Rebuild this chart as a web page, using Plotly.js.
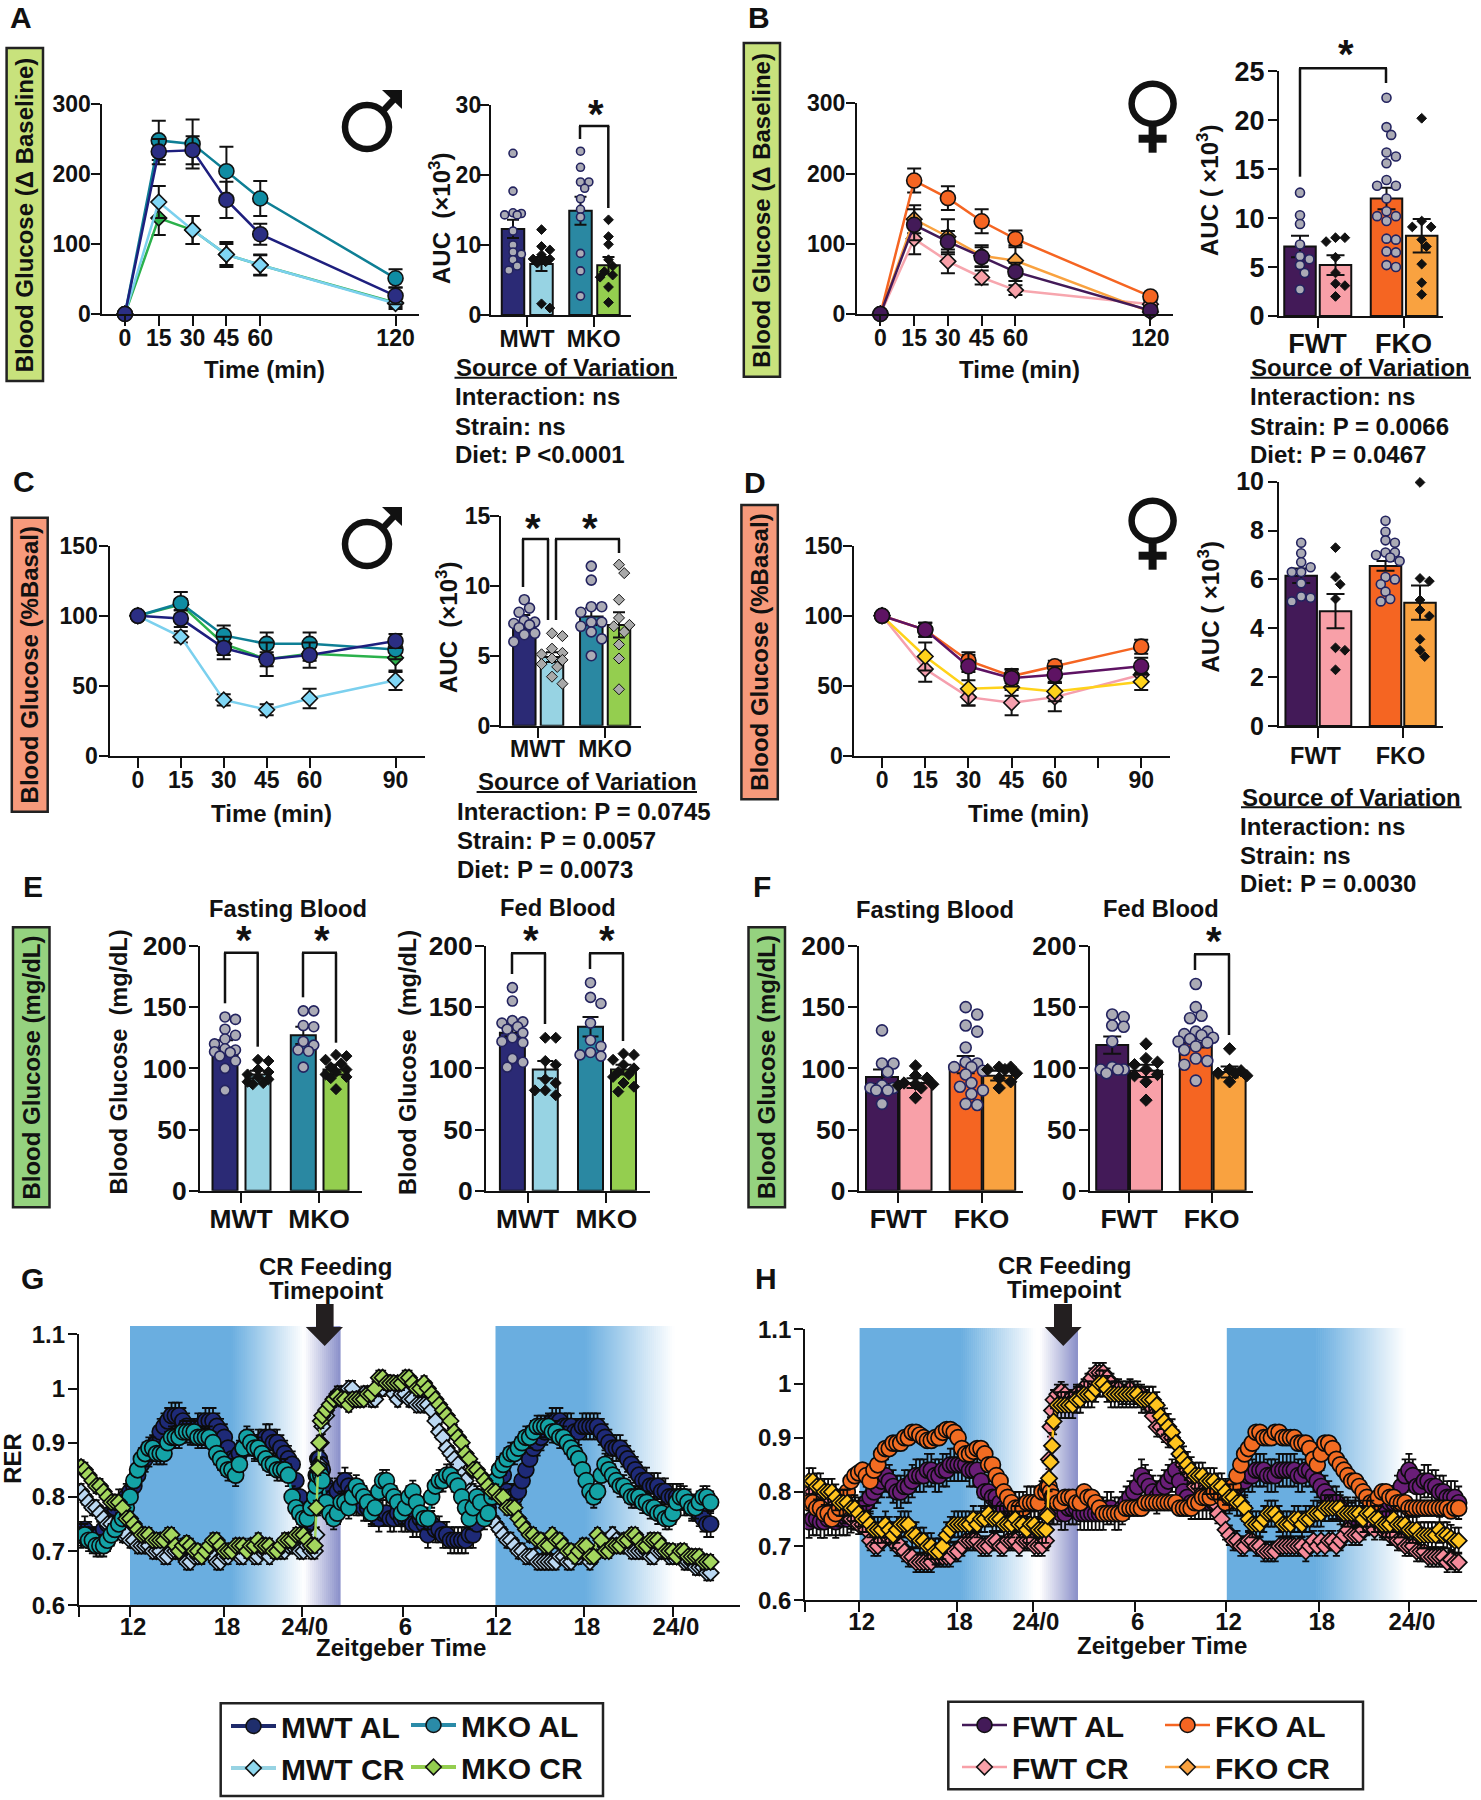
<!DOCTYPE html>
<html><head><meta charset="utf-8">
<script src="https://cdn.plot.ly/plotly-3.0.1.min.js"></script>
<style>html,body{margin:0;padding:0;background:#fff}</style></head>
<body><div id="chart" style="width:1481px;height:1800px"></div>
<script>
// ---------- DATA ----------
const minutesGTT = [0,15,30,45,60,120];
const minutesITT = [0,15,30,45,60,90];

const gttMwtAl = [0,232,234,163,114,26], gttMwtAlErr = [0,18,20,26,15,12];
const gttMkoAl = [0,248,243,204,165,51], gttMkoAlErr = [0,28,35,35,25,13];
const gttMwtCr = [0,160,120,85,70,15],   gttMwtCrErr = [0,23,20,18,15,8];
const gttMkoCr = [0,137,120,85,70,16],   gttMkoCrErr = [0,24,20,15,14,6];

const gttFwtAl = [0,127,103,81,60,5],    gttFwtAlErr = [0,22,15,14,13,5];
const gttFkoAl = [0,190,165,132,107,25], gttFkoAlErr = [0,17,17,17,12,4];
const gttFwtCr = [0,107,75,52,34,14],    gttFwtCrErr = [0,22,17,10,7,4];
const gttFkoCr = [0,135,110,83,76,3],    gttFkoCrErr = [0,20,25,15,22,4];

const ittMwtAl = [100,98,77,69,72,82],   ittMwtAlErr = [0,6,8,12,9,5];
const ittMkoAl = [100,109,86,80,80,76],  ittMkoAlErr = [0,8,7,8,8,7];
const ittMwtCr = [100,85,40,33,41,54],   ittMwtCrErr = [0,4,4,4,7,7];
const ittMkoCr = [100,108,80,69,73,70],  ittMkoCrErr = [0,4,8,5,5,10];

const ittFwtAl = [100,90,64,55.5,58,64], ittFwtAlErr = [0,5,10,6,6,6];
const ittFkoAl = [100,90,68,57,64,78],   ittFkoAlErr = [0,5,4,5,4,5];
const ittFwtCr = [100,62,42,38,42,58],   ittFwtCrErr = [0,9,6,9,10,5];
const ittFkoCr = [100,71,48,49,46,53],   ittFkoCrErr = [0,10,12,6,7,6];

const aucAMeans=[12.3,7.3,14.9,7.1], aucASem=[1.3,1.0,2.0,1.2];
const aucADots1=[23.1,17.7,14.6,14.5,14.3,14.3,12.0,10,9,8.7,7.9,7,6.4];
const aucADots2=[12.2,9.8,9.3,8.6,8,8,7.9,7.6,7.4,1.6,1];
const aucADots3=[23.4,21.1,19,19,18.1,16.6,15.1,14,8.8,6.3,2.7];
const aucADots4=[13.6,11.2,10.1,7.9,7,6.2,5.7,5.4,4,1.8];

const aucBMeans=[7.1,5.2,12,8.2], aucBSem=[1.1,1.0,1.1,1.7];
const aucBDots1=[12.6,10.3,9.4,7.3,6.1,5.8,5.2,4.4,2.7];
const aucBDots2=[8,7.6,8,6,4.4,3.3,3.1,2];
const aucBDots3=[22.3,19.3,18.5,16.7,16.3,15.6,13.9,13.3,13.3,12,10.7,10.2,10.2,9.7,7.9,7.8,6.6,6.5,5.2,5];
const aucBDots4=[20.2,9.7,9.1,9.1,7.8,7.1,5.3,3.4,2.2];

const aucCMeans=[7.4,4.9,7.8,7.2], aucCSem=[0.5,0.35,0.6,0.9];
const aucCDots1=[9,8.4,8.1,7.5,7.4,7.3,7.2,7,6.6,6.5,6];
const aucCDots2=[6.6,6.4,5.5,5.2,5.1,4.8,4.7,4.4,4.2,3.5,3];
const aucCDots3=[11.4,10.4,8.5,8.5,8.1,7.4,7.4,7.1,6.7,6.2,5];
const aucCDots4=[11.5,10.9,9,7.7,7.2,7.1,6.7,5.8,4.8,2.6];

const aucDMeans=[6.15,4.7,6.55,5.05], aucDSem=[0.3,0.7,0.2,0.7];
const aucDDots1=[7.5,7.07,6.7,6.5,6.3,6.3,5.84,5.3,5.25,5.1];
const aucDDots2=[7.3,6.1,5.8,5.2,3.2,3.1,2.3];
const aucDDots3=[8.4,7.95,7.6,7.5,7.1,7.1,7,6.9,6.75,6.1,6,5.8,5.5,5.2,5.1];
const aucDDots4=[9.97,6.04,5.93,5.16,4.75,4.5,3.55,3.1,2.84];

const fastMMeans=[117,95,127,99], fastMSem=[6,3,7,4];
const fastMDots1=[142,140,132,127,124,120,116,115,113.6,113,110,106,100,82];
const fastMDots2=[107,106,99,97,95,93,91,89,88,87];
const fastMDots3=[147,147,135,134,122,119,115,114,101];
const fastMDots4=[111,110,107,104,101,99,97,95,93,92,83];

const fedMMeans=[129,99,134,99], fedMSem=[3,7,8,4];
const fedMDots1=[166,155,139,138,137,134,132,129,125,122,121,108,105,101];
const fedMDots2=[125,125,106,103,91,88,82,82,78];
const fedMDots3=[170,158,153,137,123,118,113,111,110];
const fedMDots4=[112,111,107,103,100,97,95,93,88,85,81];

const fastFMeans=[93,88,103,94], fastFSem=[6,4,7,4];
const fastFDots1=[131,104,104,97,86,84,84,82,82,71];
const fastFDots2=[102,94,92,88,87,87,86,84,76];
const fastFDots3=[150,144,135,130,117,105,104,101,101,98,95,88,85,82,79,71,70];
const fastFDots4=[101,101,99,99,96,92,89,84];

const fedFMeans=[119,98,121,97], fedFSem=[7,5,4,4.5];
const fedFDots1=[144,142,135,134,122,101,99,99,99,96];
const fedFDots2=[120,108,105,103,99,95,94,89,74];
const fedFDots3=[169,150,143,141,130,130,128,127,125,124,122,121,118,115,108,106,103,90];
const fedFDots4=[116,99,98,96,96,94,89];

const rerHours = [
 8.75,9,9.25,9.5,9.75,10,10.25,10.5,10.75,11,11.25,11.5,
 11.75,12,12.25,12.5,12.75,13,13.25,13.5,13.75,14,14.25,14.5,
 14.75,15,15.25,15.5,15.75,16,16.25,16.5,16.75,17,17.25,17.5,
 17.75,18,18.25,18.5,18.75,19,19.25,19.5,19.75,20,20.25,20.5,
 20.75,21,21.25,21.5,21.75,22,22.25,22.5,22.75,23,23.25,23.5,
 23.75,24,24.25,24.35,24.45,24.55,24.65,24.75,25,25.25,25.5,25.75,
 26,26.25,26.5,26.75,27,27.25,27.5,27.75,28,28.25,28.5,28.75,
 29,29.25,29.5,29.75,30,30.25,30.5,30.75,31,31.25,31.5,31.75,
 32,32.25,32.5,32.75,33,33.25,33.5,33.75,34,34.25,34.5,34.75,
 35,35.25,35.5,35.75,36,36.25,36.5,36.75,37,37.25,37.5,37.75,
 38,38.25,38.5,38.75,39,39.25,39.5,39.75,40,40.25,40.5,40.75,
 41,41.25,41.5,41.75,42,42.25,42.5,42.75,43,43.25,43.5,43.75,
 44,44.25,44.5,44.75,45,45.25,45.5,45.75,46,46.25,46.5,46.75,
 47,47.25,47.5,47.75,48,48.25,48.5,48.75,49,49.25,49.5,49.75,
 50,50.25,50.5,50.75,51,51.25];

const rerMwtAl = [
 .73,.74,.73,.72,.72,.73,.74,.75,.77,.78,.79,.79,
 .80,.81,.82,.84,.86,.87,.88,.89,.90,.92,.93,.94,
 .95,.95,.95,.94,.93,.92,.92,.93,.93,.94,.94,.94,
 .93,.92,.91,.89,.87,.87,.88,.89,.90,.90,.89,.90,
 .90,.91,.91,.90,.90,.89,.88,.87,.86,.83,.80,.77,
 .75,.78,.80,.84,.87,.87,.86,.85,.82,.81,.80,.81,
 .82,.83,.82,.81,.79,.79,.78,.78,.77,.77,.76,.77,
 .77,.76,.76,.77,.76,.76,.76,.75,.75,.76,.75,.73,
 .75,.74,.74,.73,.73,.72,.72,.72,.72,.72,.73,.73,
 .75,.79,.78,.78,.80,.83,.85,.84,.81,.80,.80,.81,
 .83,.85,.87,.89,.90,.91,.92,.93,.94,.94,.94,.93,
 .93,.93,.92,.92,.93,.93,.93,.93,.93,.92,.91,.90,
 .89,.89,.89,.88,.87,.86,.85,.84,.83,.83,.82,.82,
 .82,.81,.81,.80,.80,.80,.80,.79,.79,.78,.78,.77,
 .76,.75,.75];
const rerMkoAl = [
 .73,.73,.72,.72,.71,.71,.71,.72,.73,.74,.75,.76,
 .78,.80,.83,.85,.87,.88,.89,.89,.88,.88,.88,.90,
 .91,.91,.91,.92,.92,.92,.92,.91,.91,.91,.91,.90,
 .88,.87,.86,.85,.85,.84,.86,.89,.91,.90,.89,.89,
 .88,.87,.86,.86,.85,.85,.85,.84,.80,.78,.77,.76,
 .76,.78,.80,.82,.84,.85,.84,.83,.79,.77,.76,.77,
 .79,.79,.78,.80,.82,.81,.80,.79,.77,.78,.81,.83,
 .83,.81,.80,.79,.77,.78,.80,.81,.79,.77,.76,.76,
 .80,.82,.83,.83,.84,.84,.83,.82,.80,.78,.76,.78,
 .80,.79,.76,.77,.80,.83,.85,.86,.87,.88,.88,.89,
 .90,.91,.91,.92,.93,.93,.93,.93,.92,.92,.91,.91,
 .90,.89,.88,.87,.85,.83,.81,.80,.81,.84,.86,.85,
 .84,.83,.82,.82,.81,.80,.80,.80,.79,.79,.78,.78,
 .77,.77,.76,.76,.77,.79,.80,.80,.79,.78,.78,.79,
 .80,.80,.79];
const rerMwtCr = [
 .81,.80,.79,.78,.78,.77,.76,.75,.75,.74,.74,.73,
 .73,.72,.72,.71,.71,.71,.71,.70,.70,.70,.69,.69,
 .70,.70,.70,.69,.68,.68,.69,.69,.69,.70,.70,.69,
 .68,.68,.69,.69,.70,.70,.69,.69,.70,.70,.69,.69,
 .70,.70,.69,.70,.70,.70,.70,.71,.71,.71,.70,.70,
 .71,.70,.70,.73,.78,.86,.90,.93,.95,.97,.98,.99,
 .99,.99,1.0,1.0,.98,.98,.99,.99,.98,.98,1.0,1.0,
 1.01,1.01,.99,.98,.99,.99,.98,.98,.97,.97,.97,.97,
 .96,.94,.92,.91,.89,.88,.87,.86,.84,.83,.81,.81,
 .80,.79,.78,.77,.76,.75,.74,.73,.72,.72,.71,.70,
 .70,.69,.69,.69,.68,.68,.68,.68,.68,.68,.69,.69,
 .68,.68,.69,.69,.70,.70,.68,.69,.70,.71,.71,.72,
 .73,.72,.71,.71,.71,.70,.70,.70,.70,.70,.69,.69,
 .70,.70,.70,.69,.69,.69,.69,.68,.68,.68,.67,.67,
 .67,.66,.66];
const rerMkoCr = [
 .855,.85,.84,.83,.82,.82,.81,.80,.79,.79,.79,.78,
 .76,.76,.75,.74,.73,.73,.73,.72,.72,.72,.72,.73,
 .73,.71,.70,.71,.715,.71,.70,.70,.69,.70,.71,.72,
 .72,.71,.70,.70,.70,.71,.71,.71,.70,.71,.71,.72,
 .71,.71,.71,.70,.70,.71,.72,.72,.72,.73,.73,.73,
 .72,.71,.71,.78,.853,.90,.94,.95,.96,.97,.98,.985,
 .98,.98,.97,.98,.98,.98,.98,.99,.99,1.0,1.02,1.02,
 1.01,1.01,1.01,1.01,1.01,1.02,1.02,1.01,1.0,1.0,1.01,1.0,
 .99,.98,.97,.96,.95,.94,.92,.91,.90,.88,.87,.85,
 .85,.84,.83,.82,.81,.81,.80,.80,.78,.78,.78,.76,
 .75,.74,.73,.73,.72,.72,.71,.71,.73,.72,.72,.71,
 .70,.70,.69,.70,.71,.71,.69,.69,.73,.72,.70,.70,
 .71,.71,.71,.72,.72,.73,.73,.72,.71,.71,.72,.72,
 .72,.71,.70,.70,.70,.69,.70,.70,.69,.69,.69,.69,
 .68,.68,.68];

const rerFwtAl = [
 .745,.75,.75,.745,.745,.75,.75,.745,.75,.75,.75,.755,
 .76,.76,.77,.78,.79,.80,.81,.82,.83,.82,.81,.80,
 .80,.81,.81,.82,.83,.83,.83,.84,.84,.83,.83,.84,
 .84,.85,.85,.85,.85,.85,.84,.84,.84,.82,.80,.80,
 .79,.79,.78,.77,.77,.77,.77,.77,.77,.78,.78,.78,
 .78,.79,.80,.79,.78,.78,.77,.77,.77,.76,.76,.77,
 .77,.77,.76,.76,.76,.76,.76,.76,.76,.77,.77,.76,
 .76,.77,.78,.79,.80,.81,.83,.82,.81,.80,.79,.80,
 .81,.82,.83,.84,.82,.80,.79,.78,.78,.78,.78,.78,
 .78,.78,.78,.78,.78,.79,.80,.81,.82,.82,.83,.83,
 .84,.84,.84,.83,.83,.83,.84,.84,.84,.84,.84,.83,
 .83,.84,.84,.83,.82,.81,.80,.79,.78,.78,.77,.76,
 .76,.75,.76,.76,.75,.75,.76,.76,.77,.76,.76,.78,
 .78,.80,.81,.83,.84,.83,.81,.81,.82,.82,.81,.81,
 .80,.80,.79,.79,.79,.78];
const rerFkoAl = [
 .78,.78,.77,.77,.76,.76,.75,.76,.77,.79,.80,.82,
 .83,.835,.84,.83,.82,.84,.85,.87,.88,.88,.89,.89,
 .89,.90,.90,.91,.91,.905,.90,.895,.895,.90,.90,.91,
 .915,.915,.91,.90,.88,.87,.87,.875,.88,.88,.87,.85,
 .85,.83,.82,.80,.79,.78,.77,.77,.77,.78,.78,.78,
 .78,.80,.80,.81,.81,.80,.79,.79,.78,.78,.79,.79,
 .79,.78,.78,.80,.79,.79,.78,.77,.76,.76,.76,.76,
 .76,.76,.77,.77,.77,.77,.77,.78,.78,.78,.78,.78,
 .78,.78,.78,.78,.77,.77,.77,.77,.78,.78,.79,.79,
 .79,.80,.80,.79,.78,.79,.81,.83,.85,.87,.88,.89,
 .91,.91,.90,.90,.90,.91,.91,.90,.90,.90,.90,.89,
 .89,.89,.88,.86,.85,.87,.89,.89,.88,.86,.85,.84,
 .83,.82,.82,.81,.80,.79,.78,.78,.79,.80,.80,.79,
 .79,.78,.78,.78,.77,.77,.77,.77,.77,.77,.77,.77,
 .77,.77,.77,.765,.77,.77];
const rerFwtCr = [
 .80,.80,.79,.79,.78,.78,.77,.77,.77,.76,.76,.75,
 .75,.74,.74,.73,.71,.70,.70,.71,.72,.72,.71,.70,
 .70,.69,.68,.68,.67,.67,.67,.67,.67,.68,.68,.68,
 .68,.68,.69,.69,.70,.71,.71,.71,.71,.70,.70,.70,
 .71,.71,.70,.70,.71,.71,.71,.70,.71,.71,.71,.70,
 .70,.70,.71,.76,.86,.92,.95,.97,.98,.985,.98,.97,
 .97,.98,.98,.99,1.0,1.01,1.02,1.02,1.02,1.01,1.0,.99,
 .99,.98,.98,.99,.98,.98,.98,.97,.96,.94,.92,.92,
 .91,.90,.90,.89,.87,.85,.84,.83,.81,.81,.80,.80,
 .79,.78,.76,.75,.73,.72,.71,.71,.70,.70,.71,.71,
 .70,.70,.69,.69,.69,.69,.70,.70,.70,.70,.70,.70,
 .70,.69,.70,.71,.70,.71,.70,.71,.71,.70,.71,.72,
 .73,.72,.72,.72,.73,.74,.74,.73,.74,.73,.73,.72,
 .72,.71,.71,.70,.70,.70,.69,.69,.69,.68,.68,.68,
 .68,.68,.67,.675,.67,.67];
const rerFkoCr = [
 .82,.82,.81,.81,.80,.80,.80,.79,.78,.78,.78,.77,
 .77,.76,.75,.75,.74,.73,.73,.73,.74,.73,.72,.73,
 .74,.74,.74,.72,.72,.71,.71,.70,.70,.69,.69,.70,
 .72,.73,.74,.74,.74,.74,.74,.75,.74,.75,.75,.76,
 .75,.75,.75,.74,.74,.74,.75,.74,.74,.73,.74,.74,
 .73,.73,.73,.755,.825,.855,.885,.93,.96,.96,.96,.96,
 .96,.97,.97,.98,.98,.98,.99,1.0,1.0,.99,.98,.98,
 .98,.98,.98,.98,.98,.98,.97,.97,.97,.97,.96,.94,
 .93,.92,.91,.89,.87,.86,.85,.84,.83,.83,.83,.82,
 .82,.82,.81,.81,.80,.79,.79,.78,.78,.77,.75,.74,
 .74,.74,.75,.76,.76,.76,.75,.74,.74,.74,.75,.75,
 .74,.75,.75,.76,.76,.76,.77,.77,.77,.77,.77,.76,
 .76,.76,.76,.76,.75,.76,.76,.75,.75,.74,.74,.74,
 .75,.74,.74,.74,.73,.73,.73,.72,.72,.72,.72,.72,
 .73,.72,.72,.715,.71,.71];
const rerSemMwtAl=0.024, rerSemMkoAl=0.02, rerSemMwtCr=0.014, rerSemMkoCr=0.013;
const rerSemFwtAl=0.03, rerSemFkoAl=0.01, rerSemFwtCr=0.018, rerSemFkoCr=0.024;

const rerTickLabels = ['','12','18','24/0','6','12','18','24/0'];
const rerValueTicks = [0.6,0.7,0.8,0.9,1,1.1];
const rerValueLabels = ['0.6','0.7','0.8','0.9','1','1.1'];

// ---------- STYLE ----------
const W=1481,H=1800, FONT='"Liberation Sans", Arial, sans-serif', INK='#111';
const C={navy:'#2B2A75',lblue:'#97D3E3',teal:'#2A88A2',green:'#94CE4F',
 purple:'#431A58',pink:'#F8A0A8',orange:'#F56522',lorange:'#F9A240',
 dotGrey:'#ABABB5',dotEdge:'#23235F'};
const sx=x=>x/W, sy=y=>1-y/H;
const traces=[], shapes=[], annotations=[], layout={};
let axisN=0;

function tf(size){return {family:FONT,size:size,color:INK,weight:700};}
function axes(rect,xo,yo){
  axisN++; const id=axisN===1?'':String(axisN);
  const base={showline:true,linecolor:INK,linewidth:2,ticks:'outside',tickwidth:2,tickcolor:INK,ticklen:9,
    showgrid:false,zeroline:false,tickmode:'array',fixedrange:true};
  layout['xaxis'+id]=Object.assign({},base,{domain:[sx(rect[0]),sx(rect[2])],anchor:'y'+id,ticklen:10},xo);
  layout['yaxis'+id]=Object.assign({},base,{domain:[sy(rect[3]),sy(rect[1])],anchor:'x'+id},yo);
  return {x:'x'+id,y:'y'+id};
}
function txt(x,y,text,size,o){
  annotations.push(Object.assign({xref:'paper',yref:'paper',x:sx(x),y:sy(y),text:text,showarrow:false,
    xanchor:'center',yanchor:'middle',font:{family:FONT,size:size,color:INK,weight:700},borderpad:0},o||{}));
}
function lineSeg(x0,y0,x1,y1,w,c){
  shapes.push({type:'line',xref:'paper',yref:'paper',x0:sx(x0),y0:sy(y0),x1:sx(x1),y1:sy(y1),
    line:{color:c||INK,width:w||2.5}});
}
function poly(pts,c){
  const d=pts.map((p,i)=>(i?'L':'M')+sx(p[0])+','+sy(p[1])).join(' ')+' Z';
  shapes.push({type:'path',xref:'paper',yref:'paper',path:d,fillcolor:c||INK,line:{width:0}});
}
function rectShape(x0,y0,x1,y1,fill,lw){
  shapes.push({type:'rect',xref:'paper',yref:'paper',x0:sx(x0),y0:sy(y0),x1:sx(x1),y1:sy(y1),
    fillcolor:fill||'rgba(0,0,0,0)',line:{color:lw?'#222':'rgba(0,0,0,0)',width:lw||0},layer:'below'});
}
function bracket(xl,yl,xr,yr,yt){
  lineSeg(xl,yl,xl,yt);lineSeg(xl-1,yt,xr+1,yt);lineSeg(xr,yt,xr,yr);
}
function star(x,y){txt(x,y+4,'*',40);}
function male(cx,cy){
  shapes.push({type:'circle',xref:'paper',yref:'paper',x0:sx(cx-22),x1:sx(cx+22),y0:sy(cy+22),y1:sy(cy-22),
    line:{color:INK,width:6.5},fillcolor:'rgba(0,0,0,0)'});
  lineSeg(cx+15,cy-15,cx+30,cy-31,6.5);
  poly([[cx+15,cy-37],[cx+35,cy-37],[cx+35,cy-18]]);
}
function female(cx,cy){
  shapes.push({type:'circle',xref:'paper',yref:'paper',x0:sx(cx-21),x1:sx(cx+21),y0:sy(cy+20),y1:sy(cy-20),
    line:{color:INK,width:6.5},fillcolor:'rgba(0,0,0,0)'});
  lineSeg(cx,cy+22,cx,cy+49,8);
  lineSeg(cx-14,cy+35,cx+14,cy+35,8);
}
function sideBox(x0,y0,x1,y1,label,fill){
  rectShape(x0,y0,x1,y1,fill,2.5);
  txt((x0+x1)/2,(y0+y1)/2,label,24,{textangle:-90});
}
function sourceBlock(tx,ty,ux,lx,ly,lines){
  txt(tx,ty,'Source of Variation',24,{xanchor:'left'});
  lineSeg(tx,ty+10,ux,ty+10,2);
  lines.forEach((l,i)=>txt(lx,ly[i],l,24,{xanchor:'left'}));
}
function linePanel(rect,xRange,times,yMax,yTicks,tickSize,xTicks,xLabels,series){
  const a=axes(rect,
    {range:xRange,tickvals:xTicks,ticktext:xLabels,tickfont:tf(tickSize),ticklabelstandoff:-8},
    {range:[0,yMax],tickvals:yTicks,ticktext:yTicks.map(String),tickfont:tf(tickSize),ticklabelstandoff:-4});
  series.forEach(s=>{
    traces.push({type:'scatter',mode:'lines+markers',x:times,y:s.y,xaxis:a.x,yaxis:a.y,name:s.name,
      line:{color:s.line,width:2.5},cliponaxis:false,showlegend:false,
      marker:{symbol:s.sym,size:s.sym==='diamond'?12:15,color:s.fill,line:{color:INK,width:1.6}},
      error_y:{type:'data',array:s.err,visible:true,color:INK,thickness:2,width:7}});
  });
  return a;
}
function swarm(vals,scale,d,maxOff){
  const order=vals.slice().sort((p,q)=>q-p), placed=[], step=d*0.55;
  order.forEach(v=>{
    const yp=v*scale; let best=0,bestScore=-1;
    for(let k=0;k<=Math.floor(maxOff/step)*2;k++){
      const off=(k%2?1:-1)*Math.ceil(k/2)*step;
      let m=1e9; placed.forEach(p=>{m=Math.min(m,Math.hypot(p[0]-off,p[1]-yp));});
      if(m>=d*0.92){best=off;bestScore=1e9;break;}
      if(m>bestScore){bestScore=m;best=off;}
    }
    placed.push([best,yp,v]);
  });
  return placed;
}
function barPanel(p){
  const rect=p.rect, scale=(rect[3]-rect[1])/p.yMax;
  const a=axes(rect,
    {range:[rect[0],rect[2]],tickvals:p.xTicks,ticktext:p.xLabels,tickfont:tf(p.labelSize||p.tickSize),ticklabelshift:p.xShift||0,ticklabelstandoff:p.xOff},
    {range:[0,p.yMax],tickvals:p.yTicks,ticktext:p.yTicks.map(String),tickfont:tf(p.tickSize),ticklabelstandoff:p.yOff});
  traces.push({type:'bar',x:p.centers,y:p.means,width:p.width,xaxis:a.x,yaxis:a.y,showlegend:false,
    marker:{color:p.colors,line:{color:INK,width:2}},
    error_y:{type:'data',array:p.sem,visible:true,color:INK,thickness:2,width:p.capw||6}});
  p.dots.forEach((vals,i)=>{
    const cr=i%2===1, sym=cr?'diamond':'circle', size=cr?p.dSize:p.cSize;
    const pts=swarm(vals,scale,p.cSize*0.95,p.width*0.55);
    const crFill=p.greyCr?'#A9A9A9':INK;
    traces.push({type:'scatter',mode:'markers',x:pts.map(q=>p.centers[i]+q[0]),y:pts.map(q=>q[2]),
      xaxis:a.x,yaxis:a.y,showlegend:false,cliponaxis:false,
      marker:{symbol:sym,size:size,color:cr?crFill:C.dotGrey,line:{color:cr?INK:C.dotEdge,width:cr?1:1.6}}});
  });
}
function band(x0,x1,yt,yb,solidFrac,rgb,reverse){
  const xs=x0+(x1-x0)*solidFrac;
  if(solidFrac>0) shapes.push({type:'rect',xref:'paper',yref:'paper',layer:'below',
    x0:sx(x0),x1:sx(xs+0.6),y0:sy(yb),y1:sy(yt),fillcolor:'rgb('+rgb.join(',')+')',line:{width:0}});
  const n=Math.round((x1-xs)/2);
  for(let i=0;i<n;i++){
    const f=(i+0.5)/n, k=reverse?1-f:f;
    const c=rgb.map(v=>Math.round(v+(255-v)*k));
    shapes.push({type:'rect',xref:'paper',yref:'paper',layer:'below',
      x0:sx(xs+(x1-xs)*i/n),x1:sx(xs+(x1-xs)*(i+1)/n+0.6),y0:sy(yb),y1:sy(yt),
      fillcolor:'rgb('+c.join(',')+')',line:{width:0}});
  }
}
function rerPanel(rect,xRange,xTicks,series){
  const a=axes(rect,
    {range:xRange,tickvals:xTicks,ticktext:rerTickLabels,tickfont:tf(24),ticklabelshift:3,ticklabelstandoff:-11},
    {range:[0.6,1.1],tickvals:rerValueTicks,ticktext:rerValueLabels,tickfont:tf(24),ticklabelstandoff:-2});
  series.forEach(s=>{
    traces.push({type:'scatter',mode:'lines+markers',x:rerHours,y:s.y,xaxis:a.x,yaxis:a.y,name:s.name,showlegend:false,
      line:{color:s.line||s.fill,width:2.5},
      marker:{symbol:s.sym,size:s.sym==='diamond'?12.5:16,color:s.fill,line:{color:'#0c0c0c',width:1.7}},
      error_y:{type:'constant',value:s.sem,visible:true,color:'#0c0c0c',thickness:1.8,width:3.5}});
  });
}
function arrow(cx,x0,x1,hx0,hx1){
  poly([[x0,1304],[x1,1304],[x1,1327],[hx1,1327],[cx,1346],[hx0,1327],[x0,1327]],'#231F20');
}

// ---------- PANEL A ----------
txt(21,17,'A',30);
sideBox(6.6,48,43,381,'Blood Glucose (Δ Baseline)','#C8E27C');
const legendAxes=linePanel([102.4,104,419,314],[-10,130.4],minutesGTT,300,[0,100,200,300],23,minutesGTT,minutesGTT.map(String),[
 {name:'MKO CR',y:gttMkoCr,err:gttMkoCrErr,sym:'diamond',line:'#2BB14B',fill:'#2BB14B'},
 {name:'MWT CR',y:gttMwtCr,err:gttMwtCrErr,sym:'diamond',line:'#7BD0EE',fill:'#7FD6F5'},
 {name:'MKO AL',y:gttMkoAl,err:gttMkoAlErr,sym:'circle',line:'#0E7F95',fill:'#0F8CA3'},
 {name:'MWT AL',y:gttMwtAl,err:gttMwtAlErr,sym:'circle',line:'#1E1F7E',fill:'#2B2E83'}]);
txt(264,370,'Time (min)',24);
male(367,127);
txt(440,219,'AUC&nbsp;&nbsp;(×10<sup>3</sup>)',24,{textangle:-90});
barPanel({rect:[490.8,105,631,315],yMax:30,yTicks:[0,10,20,30],tickSize:23,centers:[513,541.5,580.5,608.5],width:22.5,
  xTicks:[527,593.7],xLabels:['MWT','MKO'],means:aucAMeans,sem:aucASem,colors:[C.navy,C.lblue,C.teal,C.green],
  dots:[aucADots1,aucADots2,aucADots3,aucADots4],cSize:8,dSize:7.5,xOff:-8,yOff:-6});
bracket(580,139,608.3,208,126); star(595.5,110);
sourceBlock(454.5,367.7,677,454,[396.7,426,454],['Interaction: ns','Strain: ns','Diet: P &lt;0.0001']);

// ---------- PANEL B ----------
txt(759,17,'B',30);
sideBox(743.8,43,780,376.7,'Blood Glucose (Δ Baseline)','#C8E27C');
linePanel([857,103.3,1173.4,314],[-10.4,130.2],minutesGTT,300,[0,100,200,300],23,minutesGTT,minutesGTT.map(String),[
 {name:'FWT CR',y:gttFwtCr,err:gttFwtCrErr,sym:'diamond',line:'#F7A6AE',fill:C.pink},
 {name:'FKO CR',y:gttFkoCr,err:gttFkoCrErr,sym:'diamond',line:C.lorange,fill:C.lorange},
 {name:'FKO AL',y:gttFkoAl,err:gttFkoAlErr,sym:'circle',line:C.orange,fill:C.orange},
 {name:'FWT AL',y:gttFwtAl,err:gttFwtAlErr,sym:'circle',line:C.purple,fill:C.purple}]);
txt(1019,370,'Time (min)',24);
female(1152.6,103.7);
txt(1208,191,'AUC&nbsp;(&nbsp;×10<sup>3</sup>)',24,{textangle:-90});
barPanel({rect:[1279,71.3,1442.7,316],yMax:25,yTicks:[0,5,10,15,20,25],tickSize:27,centers:[1300,1335.5,1386.5,1421.7],width:31.5,
  xTicks:[1317.5,1403.5],xLabels:['FWT','FKO'],means:aucBMeans,sem:aucBSem,colors:[C.purple,C.pink,C.orange,C.lorange],
  dots:[aucBDots1,aucBDots2,aucBDots3,aucBDots4],capw:9,cSize:9,dSize:7.5,xOff:-7,yOff:-2});
bracket(1300,176.7,1386,83,68.3); star(1346,50);
sourceBlock(1250.4,367.7,1471,1248.5,[396.7,426,454],['Interaction: ns','Strain: P = 0.0066','Diet: P = 0.0467']);

// ---------- PANEL C ----------
txt(23.6,481.7,'C',30);
sideBox(11.8,517.7,47.7,811.7,'Blood Glucose (%Basal)','#F79A7B');
linePanel([109.5,545.7,425,756],[-9.9,100.3],minutesITT,150,[0,50,100,150],23,minutesITT,minutesITT.map(String),[
 {name:'MKO CR',y:ittMkoCr,err:ittMkoCrErr,sym:'diamond',line:'#2BB14B',fill:'#2BB14B'},
 {name:'MWT CR',y:ittMwtCr,err:ittMwtCrErr,sym:'diamond',line:'#7BD0EE',fill:'#7FD6F5'},
 {name:'MKO AL',y:ittMkoAl,err:ittMkoAlErr,sym:'circle',line:'#0E7F95',fill:'#0F8CA3'},
 {name:'MWT AL',y:ittMwtAl,err:ittMwtAlErr,sym:'circle',line:'#1E1F7E',fill:'#2B2E83'}]);
txt(271,813,'Time (min)',24);
male(367,544);
txt(447,628,'AUC&nbsp;&nbsp;(×10<sup>3</sup>)',24,{textangle:-90});
barPanel({rect:[501,515.7,641,725.7],yMax:15,yTicks:[0,5,10,15],tickSize:23,centers:[524.3,552,591.3,619],width:22.5,
  xTicks:[537.5,605],xLabels:['MWT','MKO'],means:aucCMeans,sem:aucCSem,colors:[C.navy,C.lblue,C.teal,C.green],
  dots:[aucCDots1,aucCDots2,aucCDots3,aucCDots4],greyCr:true,cSize:10,dSize:8.5,xOff:-8,yOff:-5});
bracket(523,587,548,620,539); bracket(556,620,619,553,539); star(533,524); star(590,524);
sourceBlock(476.6,782,697,456.4,[811.7,840,869],['Interaction: P = 0.0745','Strain: P = 0.0057','Diet: P = 0.0073']);

// ---------- PANEL D ----------
txt(755,482,'D',30);
sideBox(741.4,505,777.8,799.3,'Blood Glucose (%Basal)','#F79A7B');
linePanel([854.4,545.7,1170,756],[-9.6,100],minutesITT,150,[0,50,100,150],23,[0,15,30,45,60,75,90],['0','15','30','45','60','','90'],[
 {name:'FWT CR',y:ittFwtCr,err:ittFwtCrErr,sym:'diamond',line:'#F59FAE',fill:'#F59FAE'},
 {name:'FKO CR',y:ittFkoCr,err:ittFkoCrErr,sym:'diamond',line:'#FFD21A',fill:'#FFD21A'},
 {name:'FKO AL',y:ittFkoAl,err:ittFkoAlErr,sym:'circle',line:C.orange,fill:C.orange},
 {name:'FWT AL',y:ittFwtAl,err:ittFwtAlErr,sym:'circle',line:'#5E1363',fill:'#5E1363'}]);
txt(1028.7,813,'Time (min)',24);
female(1152.6,520.7);
txt(1208,607.5,'AUC&nbsp;(&nbsp;×10<sup>3</sup>)',24,{textangle:-90});
barPanel({rect:[1279,481.7,1442.7,726],yMax:10,yTicks:[0,2,4,6,8,10],tickSize:25,labelSize:23.5,centers:[1301.2,1335.5,1385.5,1420],width:31.5,
  xTicks:[1317.5,1402.5],xLabels:['FWT','FKO'],means:aucDMeans,sem:aucDSem,colors:[C.purple,C.pink,C.orange,C.lorange],
  dots:[aucDDots1,aucDDots2,aucDDots3,aucDDots4],capw:9,xShift:-2,cSize:9,dSize:7.5,xOff:-2,yOff:-1});
sourceBlock(1241,797.3,1461.6,1239,[826,855,883],['Interaction: ns','Strain: ns','Diet: P = 0.0030']);

// ---------- PANEL E ----------
txt(33,886.7,'E',30);
sideBox(13,927.3,49.5,1207.3,'Blood Glucose (mg/dL)','#95D27F');
txt(119.4,1062,'Blood Glucose&nbsp;&nbsp;(mg/dL)',23.5,{textangle:-90});
txt(288,909,'Fasting Blood',23.7);
barPanel({rect:[200,946,362.4,1190.7],yMax:200,yTicks:[0,50,100,150,200],tickSize:26.4,centers:[225,258,303.3,336],width:25,
  xTicks:[241,319],xLabels:['MWT','MKO'],means:fastMMeans,sem:fastMSem,colors:[C.navy,C.lblue,C.teal,C.green],
  dots:[fastMDots1,fastMDots2,fastMDots3,fastMDots4],cSize:10,dSize:8.5,capw:8,xOff:-6,yOff:-3});
bracket(225,1003.3,257.7,1046.7,952.7); bracket(303,997.3,336,1042.7,952.7); star(244,935.7); star(322,935.7);
txt(408,1062,'Blood Glucose&nbsp;&nbsp;(mg/dL)',23.5,{textangle:-90});
txt(557.8,908,'Fed Blood',23.7);
barPanel({rect:[486,946,650,1190.7],yMax:200,yTicks:[0,50,100,150,200],tickSize:26.4,centers:[512.4,545.3,590.5,623.5],width:25,
  xTicks:[527.6,606.4],xLabels:['MWT','MKO'],means:fedMMeans,sem:fedMSem,colors:[C.navy,C.lblue,C.teal,C.green],
  dots:[fedMDots1,fedMDots2,fedMDots3,fedMDots4],cSize:10,dSize:8.5,capw:8,xOff:-6,yOff:-3});
bracket(512,974,545,1024,953.3); bracket(590,969,623,1041,953.3); star(531,935.7); star(607.4,935.7);

// ---------- PANEL F ----------
txt(762,886,'F',30);
sideBox(748.5,927.3,785,1207.3,'Blood Glucose (mg/dL)','#95D27F');
txt(934.7,910,'Fasting Blood',23.7);
barPanel({rect:[858.6,946,1022.6,1190.7],yMax:200,yTicks:[0,50,100,150,200],tickSize:26.4,centers:[882,915.5,965.7,999.2],width:32,
  xTicks:[898.3,981.5],xLabels:['FWT','FKO'],means:fastFMeans,sem:fastFSem,colors:[C.purple,C.pink,C.orange,C.lorange],
  dots:[fastFDots1,fastFDots2,fastFDots3,fastFDots4],cSize:11,dSize:9.5,capw:9,xOff:-6,yOff:-3});
txt(1160.6,909,'Fed Blood',23.7);
barPanel({rect:[1089.7,946,1253,1190.7],yMax:200,yTicks:[0,50,100,150,200],tickSize:26.4,centers:[1112.2,1146,1195.8,1229.6],width:32,
  xTicks:[1129,1211.6],xLabels:['FWT','FKO'],means:fedFMeans,sem:fedFSem,colors:[C.purple,C.pink,C.orange,C.lorange],
  dots:[fedFDots1,fedFDots2,fedFDots3,fedFDots4],cSize:11,dSize:9.5,capw:9,xOff:-6,yOff:-3});
bracket(1195,970,1229,1035,954.3); star(1214,936.7);

// ---------- PANEL G ----------
txt(32,1278,'G',30);
band(130,304,1326,1605,0.58,[106,174,224]);
band(304,340,1326,1605,0,[138,144,201],true);
band(495.5,674,1326,1605,0.5,[106,174,224]);
rerPanel([78.8,1334.3,740,1605.3],[8.6,52.45],[8.6,12,18.23,23.38,30.07,36.24,42.1,48],[
 {name:'MWT AL',y:rerMwtAl,sem:rerSemMwtAl,sym:'circle',fill:'#1E2A78'},
 {name:'MWT CR',y:rerMwtCr,sem:rerSemMwtCr,sym:'diamond',fill:'#BBD8F2'},
 {name:'MKO AL',y:rerMkoAl,sem:rerSemMkoAl,sym:'circle',fill:'#14A3A6'},
 {name:'MKO CR',y:rerMkoCr,sem:rerSemMkoCr,sym:'diamond',fill:'#A4D65E'}]);
arrow(324.7,316,333.6,305.8,343);
txt(325.6,1266.7,'CR Feeding',24);
txt(325.6,1290,'Timepoint',24);
txt(401,1647,'Zeitgeber Time',24);
txt(11.8,1458,'RER',24,{textangle:-90});

// ---------- PANEL H ----------
txt(766,1278,'H',30);
band(859.6,1035,1328,1600,0.58,[106,174,224]);
band(1040,1077.4,1328,1600,0,[138,144,201],true);
band(1226.8,1405.4,1328,1600,0.5,[106,174,224]);
rerPanel([805.2,1329.3,1477,1600.3],[8.5,52.45],[8.5,12,18.4,23.4,30.05,36,42.1,48],[
 {name:'FWT AL',y:rerFwtAl,sem:rerSemFwtAl,sym:'circle',fill:'#6A1E78'},
 {name:'FWT CR',y:rerFwtCr,sem:rerSemFwtCr,sym:'diamond',fill:'#F58A9A'},
 {name:'FKO AL',y:rerFkoAl,sem:rerSemFkoAl,sym:'circle',fill:'#F26C22'},
 {name:'FKO CR',y:rerFkoCr,sem:rerSemFkoCr,sym:'diamond',fill:'#FFC41F'}]);
arrow(1063.3,1054,1072,1044.8,1081.7);
txt(1064,1265,'CR Feeding',24);
txt(1064,1289,'Timepoint',24);
txt(1162,1645.7,'Zeitgeber Time',24);

// ---------- LEGENDS ----------
rectShape(220.7,1703.3,603,1796,'#fff',2.5);
rectShape(948.3,1701.7,1363,1789.3,'#fff',2.5);
function leg(x,y){return {x:sx(x),y:sy(y),xanchor:'left',yanchor:'top',itemwidth:45,
  bgcolor:'rgba(0,0,0,0)',borderwidth:0,font:{family:FONT,size:30,color:INK,weight:700},itemclick:false,itemdoubleclick:false};}
layout.legend=leg(226,1700);
layout.legend2=leg(406,1699);
layout.legend3=leg(957,1699);
layout.legend4=leg(1160,1699);
function legendKey(name,sym,lineC,fill,lw,where){
  traces.push({type:'scatter',mode:'lines+markers',x:[null],y:[null],xaxis:legendAxes.x,yaxis:legendAxes.y,name:name,
    line:{color:lineC,width:lw},marker:{symbol:sym,size:sym==='diamond'?12:15,color:fill,line:{color:INK,width:1.6}},
    showlegend:true,legend:where});
}
legendKey('MWT AL','circle','#1E2A6B','#1F2E6C',4,'legend');
legendKey('MWT CR','diamond','#97D3E3','#8FD8EE',4,'legend');
legendKey('MKO AL','circle','#2A8BA8','#2A8BA8',4,'legend2');
legendKey('MKO CR','diamond','#94CE4F','#94CE4F',4,'legend2');
legendKey('FWT AL','circle','#431A58','#431A58',2.5,'legend3');
legendKey('FWT CR','diamond','#F8A0A8','#F8A0A8',2.5,'legend3');
legendKey('FKO AL','circle','#F56522','#F56522',2.5,'legend4');
legendKey('FKO CR','diamond','#F9A240','#F9A240',2.5,'legend4');

// ---------- LAYOUT ----------
Object.assign(layout,{width:W,height:H,margin:{l:0,r:0,t:0,b:0,pad:0},paper_bgcolor:'#fff',plot_bgcolor:'rgba(0,0,0,0)',
  showlegend:true,barmode:'overlay',font:{family:FONT,color:INK},shapes:shapes,annotations:annotations,hovermode:false});
Plotly.newPlot('chart',traces,layout,{displayModeBar:false,staticPlot:true});
</script></body></html>
